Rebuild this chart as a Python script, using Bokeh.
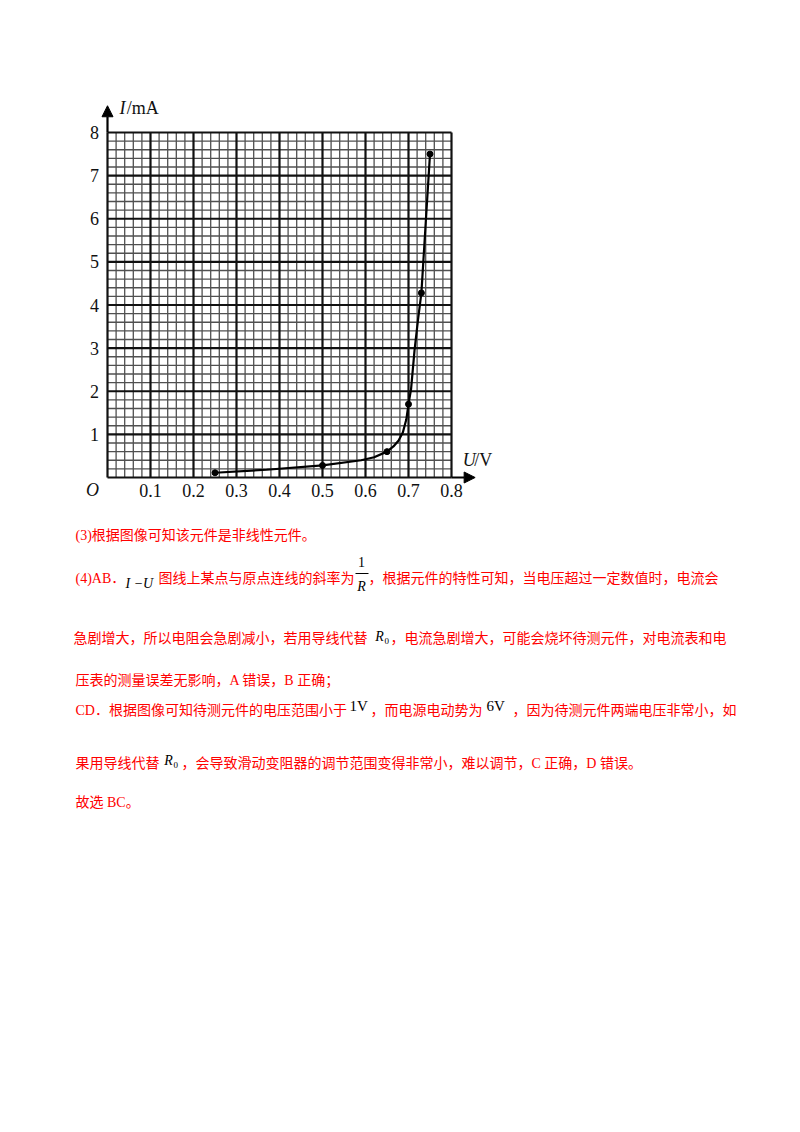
import numpy as np
from bokeh.plotting import figure
from bokeh.layouts import column
from bokeh.models import Range1d, Arrow, NormalHead
from bokeh.core.properties import value
from bokeh.embed import file_html
from bokeh.resources import INLINE

# ---------------- data ----------------
x_ticks = [0.1, 0.2, 0.3, 0.4, 0.5, 0.6, 0.7, 0.8]
x_tick_labels = ["0.1", "0.2", "0.3", "0.4", "0.5", "0.6", "0.7", "0.8"]
y_ticks = [1, 2, 3, 4, 5, 6, 7, 8]
y_tick_labels = ["1", "2", "3", "4", "5", "6", "7", "8"]

# measured points (U in V, I in mA)
pt_u = [0.25, 0.50, 0.65, 0.70, 0.73, 0.75]
pt_i = [0.11, 0.28, 0.60, 1.70, 4.28, 7.50]

# smooth curve
curve_u = [0.25, 0.37, 0.50, 0.59, 0.62, 0.65, 0.665, 0.677, 0.687, 0.695, 0.70,
           0.706, 0.714, 0.722, 0.73, 0.74, 0.75]
curve_i = [0.11, 0.18, 0.28, 0.40, 0.47, 0.60, 0.72, 0.86, 1.05, 1.35, 1.70,
           2.05, 2.95, 3.65, 4.28, 5.90, 7.50]

U_MAX, I_MAX = 0.8, 8.0
MINOR_U, MINOR_I = 0.02, 0.2

# ---------------- chart figure ----------------
W, H = 784, 500
px_u = 344 / 0.8
px_i = 345 / 8.0
x0_px, y0_px, ytop_px = 107, 477, 132
p = figure(width=W, height=H, output_backend="svg", toolbar_location=None,
           x_range=Range1d(-x0_px / px_u, (W - x0_px) / px_u),
           y_range=Range1d(-(H - y0_px) / px_i, I_MAX + ytop_px / px_i),
           x_axis_location=None, y_axis_location=None, min_border=0)
p.outline_line_color = None
p.xgrid.visible = False
p.ygrid.visible = False
p.background_fill_color = "white"
p.border_fill_color = "white"

nu = int(round(U_MAX / MINOR_U))
ni = int(round(I_MAX / MINOR_I))
mu = [k * MINOR_U for k in range(nu + 1) if k % 5 != 0]
mi = [k * MINOR_I for k in range(ni + 1) if k % 5 != 0]
p.segment(x0=mu, y0=[0] * len(mu), x1=mu, y1=[I_MAX] * len(mu), line_color="#505050", line_width=1.3)
p.segment(x0=[0] * len(mi), y0=mi, x1=[U_MAX] * len(mi), y1=mi, line_color="#505050", line_width=1.3)

Mu = [0.0] + x_ticks
Mi = [0.0] + y_ticks
p.segment(x0=Mu, y0=[0] * len(Mu), x1=Mu, y1=[I_MAX] * len(Mu), line_color="#111111", line_width=2.2)
p.segment(x0=[0] * len(Mi), y0=Mi, x1=[U_MAX] * len(Mi), y1=Mi, line_color="#111111", line_width=2.2)

# axes arrows
p.add_layout(Arrow(end=NormalHead(size=11, fill_color="black", line_color="black", line_width=1),
                   x_start=0, y_start=I_MAX, x_end=0, y_end=8.62, line_width=2.2, line_color="black"))
p.add_layout(Arrow(end=NormalHead(size=11, fill_color="black", line_color="black", line_width=1),
                   x_start=U_MAX, y_start=0, x_end=0.855, y_end=0, line_width=2.2, line_color="black"))

# curve and points
p.line(curve_u, curve_i, line_color="black", line_width=2.2)
p.scatter(pt_u, pt_i, size=6, color="black")

serif = value("Liberation Serif")
p.text(x=x_ticks, y=[-0.30] * len(x_ticks), text=x_tick_labels, text_font=serif,
       text_font_size="18px", text_align="center", text_baseline="middle", text_color="#111111")
p.text(x=[-0.030] * len(y_ticks), y=y_ticks, text=y_tick_labels, text_font=serif,
       text_font_size="18px", text_align="center", text_baseline="middle", text_color="#111111")
p.text(x=[-0.035], y=[-0.30], text=["O"], text_font=serif, text_font_style="italic",
       text_font_size="18px", text_align="center", text_baseline="middle", text_color="#111111")
# axis names
p.text(x=[0.028], y=[8.56], text=["I"], text_font=serif, text_font_style="italic",
       text_font_size="18px", text_align="left", text_baseline="middle", text_color="#111111")
p.text(x=[0.045], y=[8.56], text=["/mA"], text_font=serif,
       text_font_size="18px", text_align="left", text_baseline="middle", text_color="#111111")
p.text(x=[0.826], y=[0.40], text=["U"], text_font=serif, text_font_style="italic",
       text_font_size="18px", text_align="left", text_baseline="middle", text_color="#111111")
p.text(x=[0.853], y=[0.40], text=["/V"], text_font=serif,
       text_font_size="18px", text_align="left", text_baseline="middle", text_color="#111111")

# ---------------- text figure ----------------
TH = 320
t = figure(width=W, height=TH, output_backend="svg", toolbar_location=None,
           x_range=Range1d(0, W), y_range=Range1d(H + TH, H),
           x_axis_location=None, y_axis_location=None, min_border=0)
t.outline_line_color = None
t.xgrid.visible = False
t.ygrid.visible = False

red_font = value("Liberation Serif, Noto Sans CJK SC")
red_x = [75, 75, 158, 368, 73, 390, 75, 75, 370, 512, 75, 181, 75]
red_y = [535, 578, 578, 578, 638, 638, 680, 710, 710, 710, 763, 763, 802]
red_text = [
    "(3)根据图像可知该元件是非线性元件。",
    "(4)AB．",
    "图线上某点与原点连线的斜率为",
    "，根据元件的特性可知，当电压超过一定数值时，电流会",
    "急剧增大，所以电阻会急剧减小，若用导线代替",
    "，电流急剧增大，可能会烧坏待测元件，对电流表和电",
    "压表的测量误差无影响，A 错误，B 正确；",
    "CD．根据图像可知待测元件的电压范围小于",
    "，而电源电动势为",
    "，因为待测元件两端电压非常小，如",
    "果用导线代替",
    "，会导致滑动变阻器的调节范围变得非常小，难以调节，C 正确，D 错误。",
    "故选 BC。",
]
t.text(x=red_x, y=red_y, text=red_text, text_font=red_font, text_font_size="14px",
       text_color="#ff0000", text_align="left", text_baseline="middle")

# black math fragments
t.text(x=[125], y=[583], text=["I −U"], text_font=serif, text_font_style="italic",
       text_font_size="14px", text_color="black", text_align="left", text_baseline="middle")
t.text(x=[361], y=[561], text=["1"], text_font=serif, text_font_size="14px",
       text_color="black", text_align="center", text_baseline="middle")
t.segment(x0=[355], y0=[573], x1=[368], y1=[573], line_color="black", line_width=1)
t.text(x=[361, 379, 168], y=[586, 636, 760], text=["R", "R", "R"], text_font=serif,
       text_font_style="italic", text_font_size="14px", text_color="black",
       text_align="center", text_baseline="middle")
t.text(x=[384, 173], y=[640, 764], text=["0", "0"], text_font=serif,
       text_font_size="9px", text_color="black", text_align="left", text_baseline="middle")
t.text(x=[349, 486], y=[705, 705], text=["1V", "6V"], text_font=serif,
       text_font_size="15px", text_color="black", text_align="left", text_baseline="middle")

layout = column(p, t, spacing=0)
open("out.html", "w").write(file_html(layout, INLINE))
